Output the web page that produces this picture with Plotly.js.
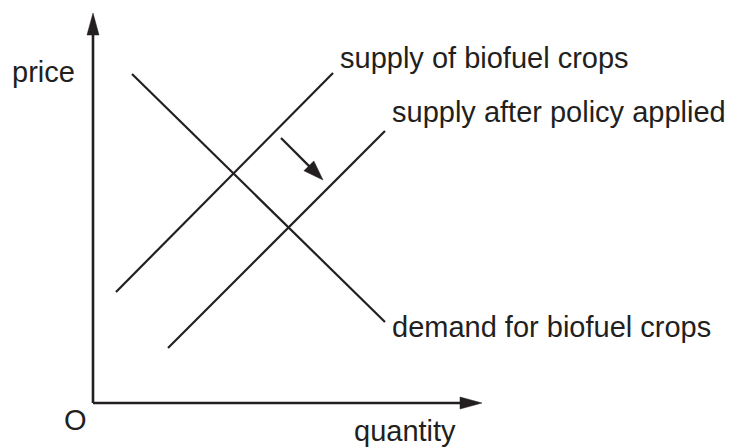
<!DOCTYPE html>
<html>
<head>
<meta charset="utf-8">
<script src="https://cdn.plot.ly/plotly-3.0.1.min.js"></script>
<style>html,body{margin:0;padding:0;background:#fff;}</style>
</head>
<body>
<div id="chart" style="width:730px;height:447px;"></div>
<script>
// Conceptual supply/demand diagram: quantity (x) and price (y) in diagram units, origin at O
const demandQ = [39, 292];
const demandP = [329, 81];
const supplyQ = [23, 240];
const supplyP = [111, 330];
const supplyAfterQ = [75, 292];
const supplyAfterP = [55, 272];
const shiftQ = [188, 230];
const shiftP = [265, 223];
const axisQmax = 389;
const axisPmax = 390;

const labelTexts = ["price", "supply of biofuel crops", "supply after policy applied", "demand for biofuel crops", "O", "quantity"];
const labelQ = [-83.5, 244.5, 297, 297, -18, 312];
const labelP = [331, 345, 291, 76, -17, -28];
const labelAnchor = ["left", "left", "left", "left", "center", "center"];

const ink = '#231f20';
const fontFam = '"Liberation Sans", Arial, Helvetica, sans-serif';

function line(xs, ys, w) {
  return {x: xs, y: ys, mode: 'lines', type: 'scatter', line: {color: ink, width: w}, hoverinfo: 'skip'};
}
function head(xs, ys, L, W) {
  const tx = xs[1], ty = ys[1];
  const dx = xs[1] - xs[0], dy = ys[1] - ys[0];
  const d = Math.hypot(dx, dy);
  const ux = dx / d, uy = dy / d;
  const bx = tx - L * ux, by = ty - L * uy;
  const nx = -uy, ny = ux;
  return {
    x: [tx, bx + nx * W / 2, bx - nx * W / 2, tx],
    y: [ty, by + ny * W / 2, by - ny * W / 2, ty],
    mode: 'lines', type: 'scatter', fill: 'toself', fillcolor: ink,
    line: {color: ink, width: 0.5}, hoverinfo: 'skip'
  };
}

const yAxisX = [0, 0], yAxisY = [0, axisPmax];
const xAxisX = [0, axisQmax], xAxisY = [0, 0];

const traces = [
  line(yAxisX, [0, axisPmax - 15], 2.6),
  head(yAxisX, yAxisY, 22, 12),
  line([0, axisQmax - 15], xAxisY, 2.6),
  head(xAxisX, xAxisY, 22, 12),
  line(demandQ, demandP, 2.2),
  line(supplyQ, supplyP, 2.2),
  line(supplyAfterQ, supplyAfterP, 2.2),
  line([shiftQ[0], shiftQ[0] + (shiftQ[1]-shiftQ[0])*0.7], [shiftP[0], shiftP[0] + (shiftP[1]-shiftP[0])*0.7], 2.2),
  head(shiftQ, shiftP, 20, 14)
];

const annotations = labelTexts.map((t, i) => ({
  text: t, x: labelQ[i], y: labelP[i], xref: 'x', yref: 'y',
  xanchor: labelAnchor[i], yanchor: 'middle', showarrow: false,
  font: {family: fontFam, size: 29, color: ink}
}));

const layout = {
  width: 730, height: 447,
  margin: {l: 0, r: 0, t: 0, b: 0},
  paper_bgcolor: '#ffffff', plot_bgcolor: '#ffffff',
  showlegend: false,
  xaxis: {range: [-93, 637], visible: false, fixedrange: true},
  yaxis: {range: [-44, 403], visible: false, fixedrange: true},
  annotations: annotations
};

Plotly.newPlot('chart', traces, layout, {staticPlot: true, displayModeBar: false});
</script>
</body>
</html>
